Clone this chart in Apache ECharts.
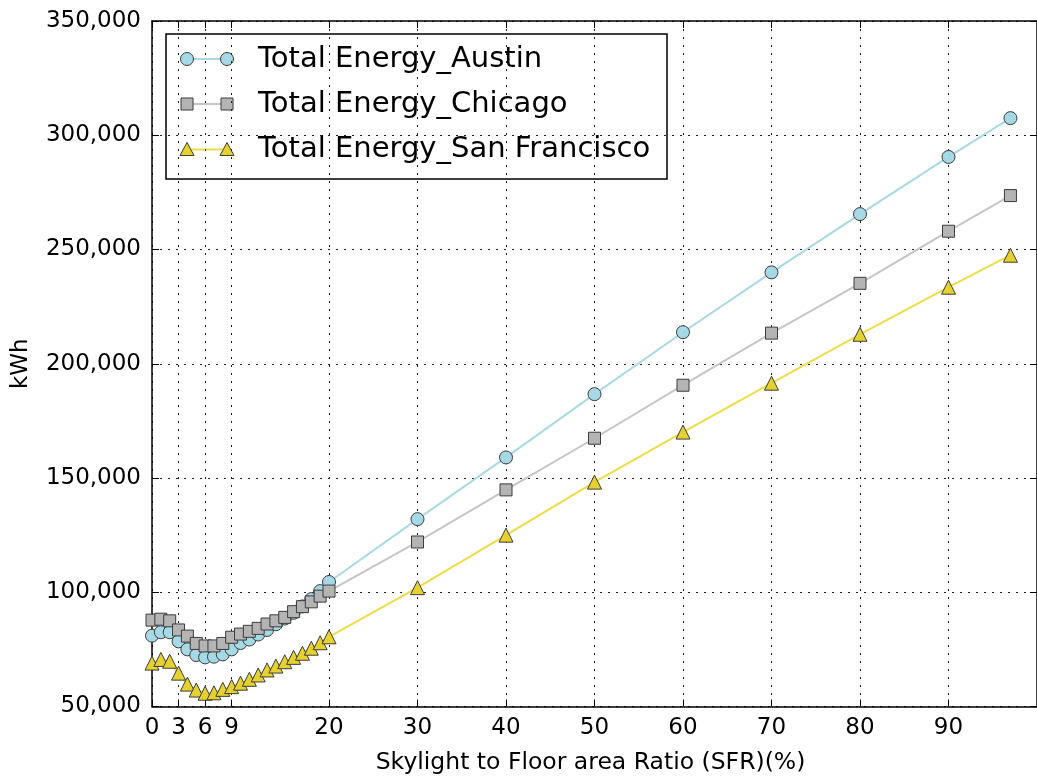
<!DOCTYPE html>
<html>
<head>
<meta charset="utf-8">
<script src="https://cdn.jsdelivr.net/npm/echarts@6/dist/echarts.min.js"></script>
<style>
  html, body { margin: 0; padding: 0; background: #fff; }
  #chart { width: 1037px; height: 781px; }
</style>
</head>
<body>
<div id="chart"></div>
<script>
// Skylight-to-floor-area ratio (%) for each simulated case
const sfr = [0, 1, 2, 3, 4, 5, 6, 7, 8, 9, 10, 11, 12, 13, 14, 15, 16, 17, 18, 19, 20,
             30, 40, 50, 60, 70, 80, 90, 97];

// Annual total energy (kWh) per city
const austin = [81000, 82500, 82500, 78500, 75000, 72500, 71500, 71800, 72800, 75000, 77800,
                79300, 81500, 83500, 86000, 88500, 91000, 93800, 97000, 100500, 104500,
                132000, 159000, 186700, 213800, 240000, 265500, 290500, 307500];
const chicago = [87800, 88200, 87500, 83500, 80800, 77600, 76500, 76500, 77600, 80300, 81700,
                 82900, 84200, 86100, 87500, 89000, 91500, 93700, 95800, 98300, 100500,
                 122000, 144800, 167400, 190600, 213400, 235200, 258000, 273600];
const sanFrancisco = [69000, 70600, 69800, 64600, 59800, 57200, 55800, 56000, 57500, 58700, 60200,
                      61900, 63800, 66000, 67700, 69600, 71500, 73300, 75500, 77900, 80500,
                      102000, 125000, 148200, 170100, 191500, 212900, 233500, 247500];

// Axis ticks
const xTicks = [0, 3, 6, 9, 20, 30, 40, 50, 60, 70, 80, 90];
const seriesNames = ['Total Energy_Austin', 'Total Energy_Chicago', 'Total Energy_San Francisco'];

const FONT = 'DejaVu Sans';
const EDGE = '#3c3c3c';
const styles = [
  { line: '#a9d9e6', fill: '#a6d9e6', symbol: 'circle', size: 13 },
  { line: '#c6c6c6', fill: '#b4b4b4', symbol: 'rect', size: 12 },
  { line: '#f0dc46', fill: '#e6d22e', symbol: 'triangle', size: 14 }
];
const values = [austin, chicago, sanFrancisco];

const gridLine = { show: true, lineStyle: { color: '#222', width: 1, type: [2, 6] } };
const axisLine = { show: true, onZero: false, lineStyle: { color: '#000', width: 1.5 } };
const tickIn = { show: true, inside: true, length: 7, lineStyle: { color: '#000', width: 1 } };

const series = values.map((vals, i) => ({
  name: seriesNames[i],
  type: 'line',
  data: sfr.map((x, k) => [x, vals[k]]),
  symbol: styles[i].symbol,
  symbolSize: styles[i].size,
  showAllSymbol: true,
  lineStyle: { color: styles[i].line, width: 2 },
  itemStyle: { color: styles[i].fill, borderColor: EDGE, borderWidth: 1 },
  emphasis: { disabled: true },
  animation: false
}));

// Legend drawn as graphic: framed box with line + two markers per row
const legendLeft = 166, legendTop = 34, legendW = 501, legendH = 145;
const rowY = [59, 104, 149.5];
const legendChildren = [{
  type: 'rect',
  shape: { x: legendLeft, y: legendTop, width: legendW, height: legendH },
  style: { fill: '#fff', stroke: '#000', lineWidth: 1.5 }
}];
function marker(kind, cx, cy, fill) {
  const st = { fill: fill, stroke: EDGE, lineWidth: 1 };
  if (kind === 'circle') return { type: 'circle', shape: { cx, cy, r: 6.5 }, style: st };
  if (kind === 'rect') return { type: 'rect', shape: { x: cx - 6, y: cy - 6, width: 12, height: 12 }, style: st };
  return { type: 'polygon', shape: { points: [[cx, cy - 7], [cx + 7, cy + 6], [cx - 7, cy + 6]] }, style: st };
}
seriesNames.forEach((name, i) => {
  const y = rowY[i];
  legendChildren.push({
    type: 'line',
    shape: { x1: 187, y1: y, x2: 227, y2: y },
    style: { stroke: styles[i].line, lineWidth: 2 }
  });
  legendChildren.push(marker(styles[i].symbol, 187, y, styles[i].fill));
  legendChildren.push(marker(styles[i].symbol, 227, y, styles[i].fill));
  legendChildren.push({
    type: 'text',
    x: 258, y: y,
    style: { text: name, font: '29px "DejaVu Sans"', fill: '#000', verticalAlign: 'middle', align: 'left' }
  });
});

const chart = echarts.init(document.getElementById('chart'), null, { renderer: 'canvas' });
chart.setOption({
  backgroundColor: '#fff',
  animation: false,
  textStyle: { fontFamily: FONT },
  grid: { left: 152, top: 21, width: 887, height: 685.5, containLabel: false },
  xAxis: [{
    type: 'value', position: 'bottom', min: 0, max: 100,
    name: 'Skylight to Floor area Ratio (SFR)(%)', nameLocation: 'middle', nameGap: 44,
    nameTextStyle: { fontFamily: FONT, fontSize: 23.5, color: '#000', padding: [0, 8, 0, 0] },
    axisLine: axisLine,
    axisTick: Object.assign({ customValues: xTicks }, tickIn),
    axisLabel: { customValues: xTicks, fontFamily: FONT, fontSize: 23, color: '#000', margin: 10 },
    splitLine: gridLine
  }, {
    type: 'value', position: 'top', min: 0, max: 100,
    axisLine: axisLine,
    axisTick: Object.assign({ customValues: xTicks }, tickIn),
    axisLabel: { show: false },
    splitLine: { show: false }
  }],
  yAxis: [{
    type: 'value', position: 'left', min: 50000, max: 350000, interval: 50000,
    name: 'kWh', nameLocation: 'middle', nameGap: 119, nameRotate: 90,
    nameTextStyle: { fontFamily: FONT, fontSize: 23, color: '#000' },
    axisLine: axisLine,
    axisTick: tickIn,
    axisLabel: {
      fontFamily: FONT, fontSize: 23, color: '#000', margin: 11,
      formatter: v => v.toLocaleString('en-US')
    },
    splitLine: gridLine
  }, {
    type: 'value', position: 'right', min: 50000, max: 350000, interval: 50000,
    axisLine: axisLine,
    axisTick: tickIn,
    axisLabel: { show: false },
    splitLine: { show: false }
  }],
  series: series,
  graphic: [{ type: 'group', z: 100, children: legendChildren }]
});
</script>
</body>
</html>
